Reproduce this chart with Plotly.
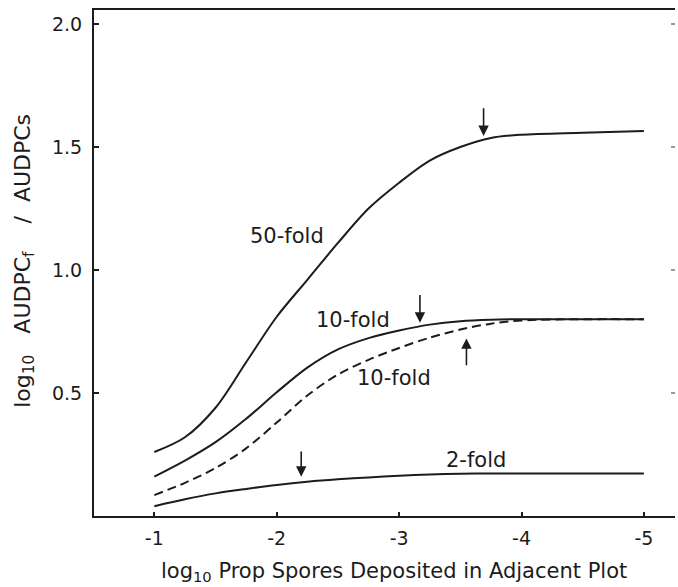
import plotly.graph_objects as go

# ---- data ----
x_vals = [-1, -1.25, -1.5, -1.75, -2, -2.25, -2.5, -2.75, -3, -3.25, -3.5, -3.75, -4, -4.5, -5]
fold50 = [0.26, 0.32, 0.44, 0.625, 0.81, 0.96, 1.11, 1.25, 1.355, 1.445, 1.50, 1.537, 1.55, 1.558, 1.565]
fold10 = [0.16, 0.225, 0.30, 0.395, 0.503, 0.603, 0.677, 0.723, 0.754, 0.778, 0.792, 0.798, 0.80, 0.80, 0.80]
fold10_dash = [0.085, 0.135, 0.195, 0.275, 0.38, 0.49, 0.575, 0.635, 0.683, 0.725, 0.758, 0.782, 0.795, 0.80, 0.80]
fold2 = [0.04, 0.068, 0.092, 0.11, 0.126, 0.139, 0.149, 0.157, 0.164, 0.169, 0.172, 0.173, 0.173, 0.173, 0.173]

x_tickvals = [-1, -2, -3, -4, -5]
x_ticktext = ["-1", "-2", "-3", "-4", "-5"]
y_tickvals = [0.5, 1.0, 1.5, 2.0]
y_ticktext = ["0.5", "1.0", "1.5", "2.0"]

curve_labels = ["50-fold", "10-fold", "10-fold", "2-fold"]
label_x = [-2.08, -2.62, -2.96, -3.63]
label_y = [1.14, 0.795, 0.561, 0.226]

# arrows: x, tail y, tip y
arrow_x = [-3.69, -3.17, -3.55, -2.20]
arrow_tail = [1.664, 0.905, 0.607, 0.268]
arrow_tip = [1.545, 0.786, 0.722, 0.160]

x_title = "log<sub>10</sub> Prop Spores Deposited in Adjacent Plot"
y_title = ("log<sub>10</sub>\u00a0\u00a0\u00a0AUDPC<sub>f</sub>\u00a0\u00a0\u00a0\u00a0/"
           "\u00a0\u00a0AUDPCs")

FONT = "DejaVu Sans, Liberation Sans, Arial, sans-serif"
INK = "#1c1c1c"

fig = go.Figure()
line_style = dict(color=INK, width=2, shape="spline", smoothing=0.9)
fig.add_trace(go.Scatter(x=x_vals, y=fold50, mode="lines", line=line_style, showlegend=False))
fig.add_trace(go.Scatter(x=x_vals, y=fold10, mode="lines", line=line_style, showlegend=False))
fig.add_trace(go.Scatter(x=x_vals, y=fold10_dash, mode="lines",
                         line=dict(color=INK, width=2, shape="spline", smoothing=0.9, dash="9px,5px"),
                         showlegend=False))
fig.add_trace(go.Scatter(x=x_vals, y=fold2, mode="lines", line=line_style, showlegend=False))
# invisible trace for the right-hand tick axis
fig.add_trace(go.Scatter(x=[x_vals[0]], y=[fold2[0]], yaxis="y2", mode="lines",
                         line=dict(width=0), hoverinfo="skip", showlegend=False))

annotations = []
for t, lx, ly in zip(curve_labels, label_x, label_y):
    annotations.append(dict(x=lx, y=ly, xref="x", yref="y", text=t, showarrow=False,
                            font=dict(family=FONT, size=21, color=INK),
                            xanchor="center", yanchor="middle"))
for ax_, tail, tip in zip(arrow_x, arrow_tail, arrow_tip):
    annotations.append(dict(x=ax_, y=tip, ax=ax_, ay=tail, xref="x", yref="y",
                            axref="x", ayref="y", text="", showarrow=True,
                            arrowhead=2, arrowsize=1.3, arrowwidth=1.6, arrowcolor=INK,
                            standoff=0, startstandoff=0))
annotations.append(dict(x=0.516, y=-0.111, xref="paper", yref="paper", text=x_title,
                        showarrow=False, font=dict(family=FONT, size=21, color=INK),
                        xanchor="center", yanchor="middle"))
annotations.append(dict(x=-0.12, y=0.505, xref="paper", yref="paper", text=y_title,
                        showarrow=False, textangle=-90, font=dict(family=FONT, size=22, color=INK),
                        xanchor="center", yanchor="middle"))

fig.update_layout(
    width=678, height=587,
    margin=dict(l=94, r=3, t=10, b=71),
    paper_bgcolor="white", plot_bgcolor="white",
    font=dict(family=FONT, size=19, color=INK),
    xaxis=dict(range=[-0.507, -5.254], tickvals=x_tickvals, ticktext=x_ticktext,
               ticks="inside", ticklen=4, tickwidth=1.5, tickcolor=INK,
               showline=True, linecolor=INK, linewidth=2, mirror=True,
               showgrid=False, zeroline=False, ticklabelstandoff=4,
               tickfont=dict(family=FONT, size=19, color=INK)),
    yaxis=dict(range=[0, 2.057], tickvals=y_tickvals, ticktext=y_ticktext,
               ticks="inside", ticklen=5, tickwidth=1.5, tickcolor=INK,
               showline=True, linecolor=INK, linewidth=2,
               showgrid=False, zeroline=False, ticklabelstandoff=6,
               tickfont=dict(family=FONT, size=19, color=INK)),
    yaxis2=dict(range=[0, 2.057], overlaying="y", side="right", tickvals=y_tickvals,
                ticks="inside", ticklen=4, tickwidth=1.5, tickcolor="#9a9a9a",
                showline=False, showgrid=False, zeroline=False, showticklabels=False),
    annotations=annotations,
)

fig.write_html("out.html")
